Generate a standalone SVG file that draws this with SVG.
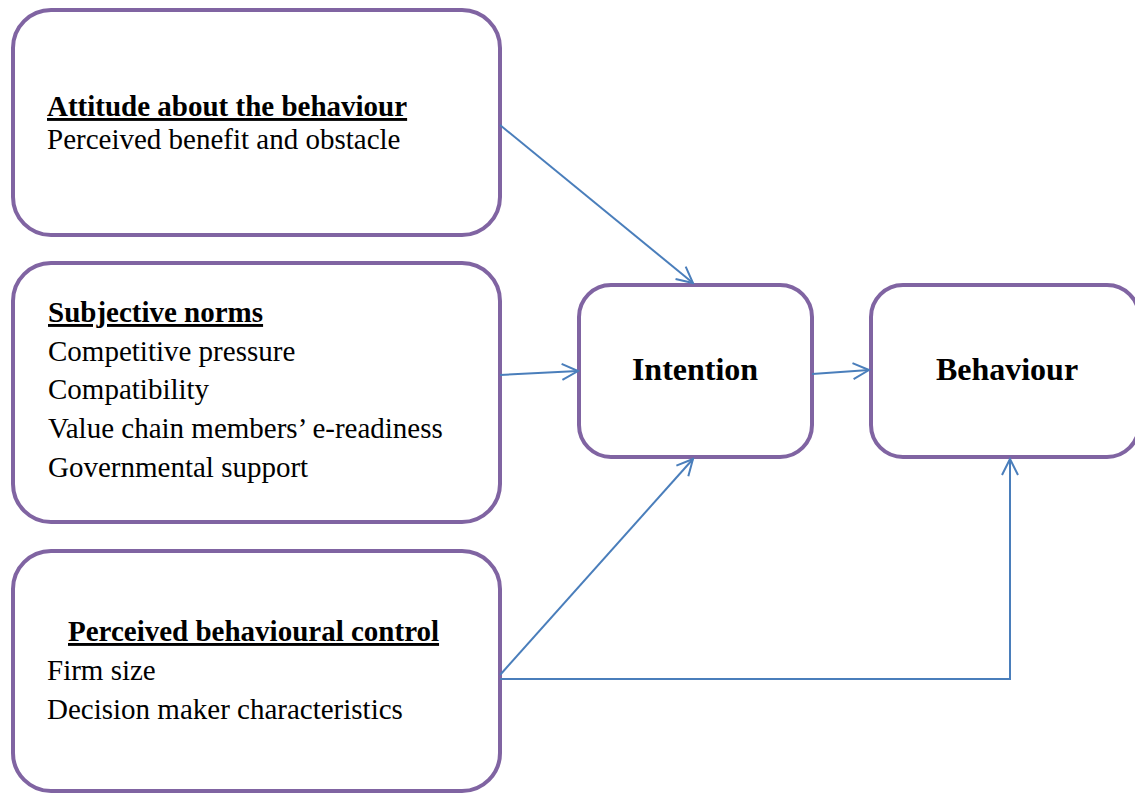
<svg xmlns="http://www.w3.org/2000/svg" width="1135" height="793" viewBox="0 0 1135 793">
  <style>
    .box { fill: #ffffff; stroke: #8064A2; stroke-width: 4; }
    .txt { font-family: "Liberation Serif", "Times New Roman", serif; font-size: 29px; fill: #000; }
    .head { font-weight: bold; text-decoration: underline; }
    .big { font-family: "Liberation Serif", "Times New Roman", serif; font-size: 32px; font-weight: bold; fill: #000; }
    .conn { fill: none; stroke: #4A7EBB; stroke-width: 2; }
  </style>
  <defs>
    <marker id="arrow" viewBox="0 0 20 20" refX="18" refY="10" markerWidth="20" markerHeight="20" markerUnits="userSpaceOnUse" orient="auto">
      <path d="M2,2 L18,10 L2,18" fill="none" stroke="#4A7EBB" stroke-width="2"/>
    </marker>
  </defs>

  <g id="attitude">
    <rect class="box" x="13" y="10" width="487" height="225" rx="38"/>
    <text class="txt head" x="47" y="116">Attitude about the behaviour</text>
    <text class="txt" x="47" y="149">Perceived benefit and obstacle</text>
  </g>

  <g id="subjective-norms">
    <rect class="box" x="13" y="263" width="487" height="259" rx="38"/>
    <text class="txt head" x="48" y="322">Subjective norms</text>
    <text class="txt" x="48" y="361">Competitive pressure</text>
    <text class="txt" x="48" y="399">Compatibility</text>
    <text class="txt" x="48" y="438">Value chain members’ e-readiness</text>
    <text class="txt" x="48" y="477">Governmental support</text>
  </g>

  <g id="control">
    <rect class="box" x="13" y="551" width="487" height="240" rx="38"/>
    <text class="txt head" x="68" y="641">Perceived behavioural control</text>
    <text class="txt" x="47" y="680">Firm size</text>
    <text class="txt" x="47" y="719">Decision maker characteristics</text>
  </g>

  <g id="intention">
    <rect class="box" x="579" y="285" width="233" height="172" rx="32"/>
    <text class="big" x="695" y="380" text-anchor="middle">Intention</text>
  </g>

  <g id="behaviour">
    <rect class="box" x="871" y="285" width="268" height="172" rx="32"/>
    <text class="big" x="1007" y="380" text-anchor="middle">Behaviour</text>
  </g>

  <g id="connectors">
    <line class="conn" x1="500" y1="125" x2="693" y2="283" marker-end="url(#arrow)"/>
    <line class="conn" x1="500" y1="375" x2="578" y2="371" marker-end="url(#arrow)"/>
    <line class="conn" x1="812" y1="374" x2="869" y2="370" marker-end="url(#arrow)"/>
    <line class="conn" x1="500" y1="675" x2="693" y2="459" marker-end="url(#arrow)"/>
    <polyline class="conn" points="500,679 1010,679 1010,459" marker-end="url(#arrow)"/>
  </g>
</svg>
